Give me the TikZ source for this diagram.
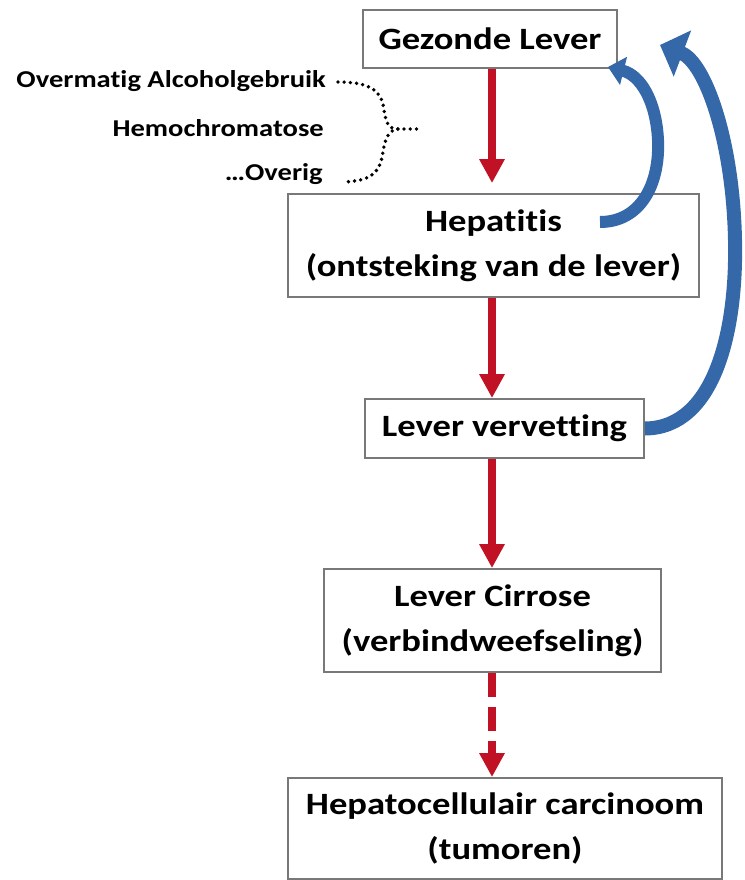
\documentclass[tikz,border=0pt]{standalone}
\usepackage{fontspec}
\setmainfont{Carlito}[FakeStretch=1.18, Ligatures=NoCommon]
\usetikzlibrary{arrows.meta}
\definecolor{redarrow}{RGB}{192,18,36}
\definecolor{bluearrow}{RGB}{52,104,168}
\definecolor{boxgray}{RGB}{120,120,120}
\tikzset{
  box/.style={draw=boxgray, line width=1.8pt, fill=white, inner sep=0pt, align=center,
    font=\bfseries\fontsize{31}{44.5}\selectfont},
  cause/.style={font=\bfseries\fontsize{24.2}{28}\selectfont, inner sep=0pt, anchor=base east},
  redarr/.style={draw=redarrow, line width=7.5pt, -{Triangle[width=24pt,length=24pt]}},
  bluearr/.style={draw=bluearrow},
  brace/.style={line width=3.8pt, line cap=round, dash pattern=on 0pt off 6.2pt}
}
\begin{document}
\begin{tikzpicture}[x=1pt,y=-1pt]
\useasboundingbox (0,0) rectangle (744,880);
% boxes
\node[box, minimum width=254pt, minimum height=58pt] (g) at (490,39) {Gezonde Lever};
\node[box, minimum width=411pt, minimum height=103pt] (hep) at (493.5,245.5) {Hepatitis\\(ontsteking van de lever)};
\node[box, minimum width=279pt, minimum height=59pt] (lv) at (504.5,428.5) {Lever vervetting};
\node[box, minimum width=337pt, minimum height=103pt] (lc) at (492.5,620.5) {Lever Cirrose\\(verbindweefseling)};
\node[box, minimum width=434pt, minimum height=101pt] (hc) at (505,828.5) {Hepatocellulair carcinoom\\(tumoren)};
% red arrows
\coordinate (ax) at (492,0);
\draw[redarr, shorten >=10pt] (g.south -| ax) -- (hep.north -| ax);
\draw[redarr] (hep.south -| ax) -- (lv.north -| ax);
\draw[redarr] (lv.south -| ax) -- (lc.north -| ax);
\draw[redarr, dash pattern=on 24pt off 10pt] (lc.south -| ax) -- (hc.north -| ax);
% causes
\node[cause] (c1) at (326,88) {Overmatig Alcoholgebruik};
\node[cause] (c2) at (324,136) {Hemochromatose};
\node[cause] (c3) at (323,180) {…Overig};
\coordinate (b1) at (338,82);
\coordinate (b2) at (343,182);
\coordinate (btip) at (398,129);
\coordinate (bend) at (422,129);
\draw[brace] (b1) .. controls (372,82) and (382,92) .. (384,110) .. controls (386,124) and (389,129) .. (btip) -- (bend);
\draw[brace] (btip) .. controls (389,130) and (385,138) .. (383,152) .. controls (380,173) and (371,181) .. (b2);
% blue arrows
\coordinate (t1) at (600,222);
\coordinate (h1) at (608,67);
\coordinate (h2) at (660,45);
\draw[bluearr, line width=12pt, -{Triangle[width=28pt,length=16pt]}] (t1) .. controls (640,222) and (660,185) .. (658,140) .. controls (656,100) and (640,75) .. (h1);
\draw[bluearr, line width=14pt, -{Triangle[width=48pt,length=24pt]}] (lv.east) .. controls (715,428) and (737,330) .. (735,240) .. controls (733,140) and (705,62) .. (h2);
\end{tikzpicture}
\end{document}
